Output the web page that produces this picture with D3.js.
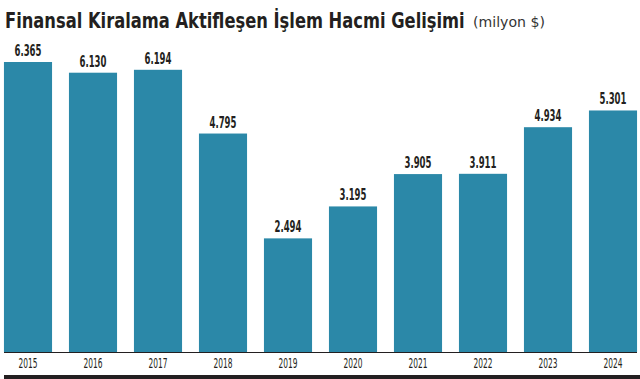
<!DOCTYPE html>
<html><head><meta charset="utf-8">
<script src="https://cdn.jsdelivr.net/npm/d3@7"></script>
<style>body{margin:0;background:#fff;}svg{display:block;}</style>
</head><body>
<script>
const years = ["2015","2016","2017","2018","2019","2020","2021","2022","2023","2024"];
const values = [6365,6130,6194,4795,2494,3195,3905,3911,4934,5301];
const valueLabels = ["6.365","6.130","6.194","4.795","2.494","3.195","3.905","3.911","4.934","5.301"];

const W=640,H=379;
const svg=d3.select("body").append("svg").attr("width",W).attr("height",H);
const font="'DejaVu Sans Condensed','DejaVu Sans',sans-serif";

const x=d3.scaleBand().domain(years).range([-4.5,645.5]).paddingInner(0.26).paddingOuter(0.13);
const y=d3.scaleLinear().domain([0,6365]).range([352,62]);

// place a text at (px,py) squeezed horizontally to width targetW; anchor: 0 start, 0.5 middle
function squeezed(parent, str, px, py, targetW, anchor, attrs){
  const g=parent.append("g");
  const t=g.append("text").attr("font-family",font).attr("font-stretch","condensed").text(str);
  Object.entries(attrs).forEach(([k,v])=>t.attr(k,v));
  const w=t.node().getComputedTextLength();
  const s=targetW/w;
  g.attr("transform",`translate(${px-anchor*targetW},${py}) scale(${s},1)`);
  return g;
}

squeezed(svg,"Finansal Kiralama Aktifleşen İşlem Hacmi Gelişimi",5,28,460,0,
  {"font-weight":"bold","font-size":21,"fill":"#231f20"});
squeezed(svg,"(milyon $)",473,27,72,0,{"font-size":14,"fill":"#333"});

svg.append("line").attr("x1",4).attr("x2",637).attr("y1",352.5).attr("y2",352.5).attr("stroke","#231f20").attr("stroke-width",1);

svg.selectAll("rect.bar").data(values).join("rect").attr("class","bar")
  .attr("x",(d,i)=>x(years[i])).attr("width",x.bandwidth())
  .attr("y",d=>y(d)).attr("height",d=>y(0)-y(d)).attr("fill","#2b88a8");

const vg=svg.append("g");
values.forEach((d,i)=>{
  squeezed(vg,valueLabels[i],x(years[i])+x.bandwidth()/2,y(d)-6,27,0.5,
    {"font-weight":"bold","font-size":16,"fill":"#231f20"});
});

const ax=svg.append("g").attr("transform","translate(0,352)").call(d3.axisBottom(x).tickSize(0).tickPadding(6));
ax.select(".domain").remove();
ax.selectAll("text").attr("font-family",font).attr("font-stretch","condensed").attr("font-size",14).attr("fill","#231f20")
  .attr("textLength",19).attr("lengthAdjust","spacingAndGlyphs");

svg.append("rect").attr("x",4).attr("y",375).attr("width",636).attr("height",4).attr("fill","#231f20");
</script>
</body></html>
